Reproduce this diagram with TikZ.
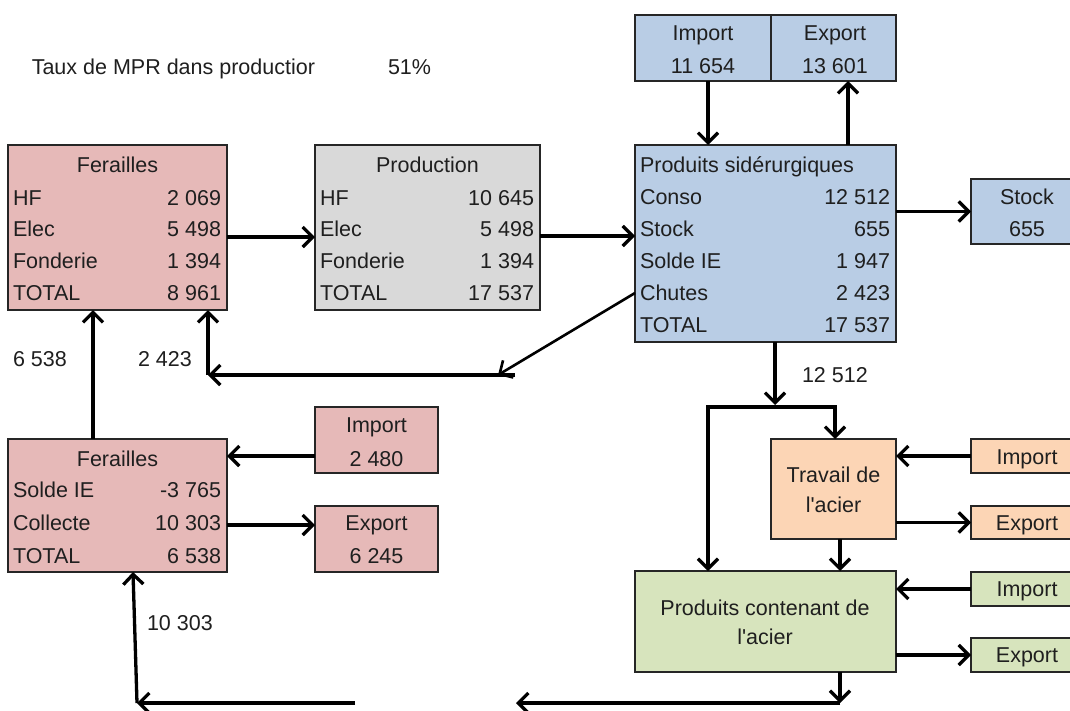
\documentclass[tikz,border=0pt]{standalone}
\usepackage{fontspec}
\setmainfont{Liberation Sans}
\usetikzlibrary{arrows.meta}
\definecolor{cpink}{HTML}{E6B9B8}
\definecolor{cgray}{HTML}{D9D9D9}
\definecolor{cblue}{HTML}{B9CDE5}
\definecolor{corange}{HTML}{FCD5B5}
\definecolor{cgreen}{HTML}{D7E4BD}
\definecolor{cline}{HTML}{262626}
\definecolor{ctext}{HTML}{1F1F1F}
\tikzset{
  box/.style={draw=cline, line width=1.6pt, inner sep=0pt, outer sep=0pt},
  pinkbox/.style={box, fill=cpink},
  graybox/.style={box, fill=cgray},
  bluebox/.style={box, fill=cblue},
  orangebox/.style={box, fill=corange},
  greenbox/.style={box, fill=cgreen},
  txt/.style={inner sep=0pt, outer sep=0pt, text=ctext, font=\fontsize{21.5}{26}\selectfont, text height=15.5pt, text depth=0pt},
  lab/.style={txt, anchor=west},
  num/.style={txt, anchor=east},
  arr/.style={draw=black, line width=3.3pt, line join=miter, -{Straight Barb[length=10pt,width=20pt]}},
}
\begin{document}
\begin{tikzpicture}[x=1pt,y=-1pt]
\useasboundingbox (0,0) rectangle (1070,710);
\clip (0,0) rectangle (1070,710);
\fill[white] (0,0) rectangle (1070,710);

% title
\node[txt, anchor=east] (title) at (315,67) {Taux de MPR dans productior};
\node[lab] (pct) at (388,67) {51\%};

% Ferailles (top)
\node[pinkbox, minimum width=219pt, minimum height=165pt] (fer1) at (117.5,227.5) {};
\node[txt] (fer1t) at (117.5,165) {Ferailles};
\node[lab] (f1a) at (13,198) {HF};
\node[lab] (f1b) at (13,229) {Elec};
\node[lab] (f1c) at (13,261) {Fonderie};
\node[lab] (f1d) at (13,293) {TOTAL};
\node[num] (f1an) at (221,198) {2 069};
\node[num] (f1bn) at (221,229) {5 498};
\node[num] (f1cn) at (221,261) {1 394};
\node[num] (f1dn) at (221,293) {8 961};

% Production
\node[graybox, minimum width=225pt, minimum height=165pt] (prod) at (427.5,227.5) {};
\node[txt] (prodt) at (427.5,165) {Production};
\node[lab] (pa) at (320,198) {HF};
\node[lab] (pb) at (320,229) {Elec};
\node[lab] (pc) at (320,261) {Fonderie};
\node[lab] (pd) at (320,293) {TOTAL};
\node[num] (pan) at (534,198) {10 645};
\node[num] (pbn) at (534,229) {5 498};
\node[num] (pcn) at (534,261) {1 394};
\node[num] (pdn) at (534,293) {17 537};

% Produits siderurgiques
\node[bluebox, minimum width=261pt, minimum height=197pt] (sid) at (765.5,243.5) {};
\node[lab] (sidt) at (640,165) {Produits sidérurgiques};
\node[lab] (sa) at (640,197) {Conso};
\node[lab] (sb) at (640,229) {Stock};
\node[lab] (sc) at (640,261) {Solde IE};
\node[lab] (chutes) at (640,293) {Chutes};
\node[lab] (se) at (640,325) {TOTAL};
\node[num] (san) at (890,197) {12 512};
\node[num] (sbn) at (890,229) {655};
\node[num] (scn) at (890,261) {1 947};
\node[num] (sdn) at (890,293) {2 423};
\node[num] (sen) at (890,325) {17 537};

% Import / Export top
\node[bluebox, minimum width=136pt, minimum height=66pt] (imp1) at (703,48) {};
\node[bluebox, minimum width=125pt, minimum height=66pt] (exp1) at (833.5,48) {};
\node[txt] (imp1a) at (703,33) {Import};
\node[txt] (imp1b) at (703,66) {11 654};
\node[txt] (exp1a) at (835,33) {Export};
\node[txt] (exp1b) at (835,66) {13 601};

% Stock
\node[bluebox, minimum width=112pt, minimum height=65pt] (stock) at (1027,211.5) {};
\node[txt] (stocka) at (1027,197) {Stock};
\node[txt] (stockb) at (1027,229) {655};

% Ferailles (bottom)
\node[pinkbox, minimum width=219pt, minimum height=133pt] (fer2) at (117.5,505.5) {};
\node[txt] (fer2t) at (117.5,459) {Ferailles};
\node[lab] (f2a) at (13,490) {Solde IE};
\node[lab] (f2b) at (13,523) {Collecte};
\node[lab] (f2c) at (13,556) {TOTAL};
\node[num] (f2an) at (221,490) {-3 765};
\node[num] (f2bn) at (221,523) {10 303};
\node[num] (f2cn) at (221,556) {6 538};

% Import / Export scrap
\node[pinkbox, minimum width=123pt, minimum height=66pt] (imp2) at (376.5,440) {};
\node[txt] (imp2a) at (376.5,425) {Import};
\node[txt] (imp2b) at (376.5,459) {2 480};
\node[pinkbox, minimum width=123pt, minimum height=66pt] (exp2) at (376.5,539) {};
\node[txt] (exp2a) at (376.5,523) {Export};
\node[txt] (exp2b) at (376.5,556) {6 245};

% Travail de l'acier
\node[orangebox, minimum width=125pt, minimum height=100pt] (trav) at (833.5,489) {};
\node[txt] (trava) at (833.5,475) {Travail de};
\node[txt] (travb) at (833.5,505) {l\textquotesingle acier};

% Produits contenant de l'acier
\node[greenbox, minimum width=261pt, minimum height=101pt] (pca) at (765.5,621.5) {};
\node[txt] (pcaa) at (765,608) {Produits contenant de};
\node[txt] (pcab) at (765,637) {l\textquotesingle acier};

% right small boxes
\node[orangebox, minimum width=112pt, minimum height=34pt] (impO) at (1027,456) {};
\node[txt] (impOt) at (1027,457) {Import};
\node[orangebox, minimum width=112pt, minimum height=33pt] (expO) at (1027,522.5) {};
\node[txt] (expOt) at (1027,523) {Export};
\node[greenbox, minimum width=112pt, minimum height=34pt] (impG) at (1027,589) {};
\node[txt] (impGt) at (1027,589) {Import};
\node[greenbox, minimum width=112pt, minimum height=34pt] (expG) at (1027,655) {};
\node[txt] (expGt) at (1027,655) {Export};

% flow labels
\node[lab] (l6538) at (13,359) {6 538};
\node[lab] (l2423) at (138,359) {2 423};
\node[lab] (l10303) at (147,623) {10 303};
\node[lab] (l12512) at (802,375) {12 512};

% coordinates
\coordinate (c1) at ([yshift=-9.5pt]fer1.east);
\coordinate (c2) at ([yshift=-8.5pt]prod.east);
\coordinate (c3) at ([xshift=5pt]imp1.south);
\coordinate (c4) at ([xshift=14.5pt]exp1.south);
\coordinate (chE) at (498,375);
\coordinate (h1) at (515,375);
\coordinate (h2) at (208,375);
\coordinate (v1) at ([xshift=-24.5pt]fer2.north);
\coordinate (c9) at ([yshift=-16pt]imp2.west);
\coordinate (c10) at ([yshift=14pt]exp2.west);
\coordinate (b1) at (137,703);
\coordinate (b2) at (355,703);
\coordinate (p1) at ([xshift=74.5pt]pca.south);
\coordinate (b3) at (p1 |- b1);
\coordinate (b4) at (516,703);
\coordinate (s1) at ([xshift=9.5pt]sid.south);
\coordinate (s2) at (775,405);
\coordinate (j1) at (708,407);
\coordinate (j2) at (835,407);
\coordinate (t1) at ([xshift=6.5pt]trav.south);

% connectors
\draw[arr] (c1) -- (c1 -| prod.west);
\draw[arr] (c2) -- (c2 -| sid.west);
\draw[arr] (stock.west -| sid.east) -- (stock.west);
\draw[arr] (c3) -- (c3 |- sid.north);
\draw[arr] (c4 |- sid.north) -- (c4);
\draw[arr, line width=2.6pt] (sid.west |- chutes) -- (chE);
\draw[arr] (h1) -- (h2);
\draw[arr] (h2) -- (h2 |- fer1.south);
\draw[arr] (v1) -- (v1 |- fer1.south);
\draw[arr] (c9) -- (c9 -| fer2.east);
\draw[arr] (c10 -| fer2.east) -- (c10);
\draw[arr] (b1) -- ([xshift=15.5pt]fer2.south);
\draw[arr] (b2) -- (b1);
\draw[arr] (p1) -- (b3);
\draw[arr] (b3) -- (b4);
\draw[arr] (s1) -- (s2);
\draw[arr] (j2) -- (j1) -- (j1 |- pca.north);
\draw[arr] (j1) -- (j2) -- (j2 |- trav.north);
\draw[arr] (t1) -- (t1 |- pca.north);
\draw[arr] (impO.west) -- (impO.west -| trav.east);
\draw[arr] (expO.west -| trav.east) -- (expO.west);
\draw[arr] (impG.west) -- (impG.west -| pca.east);
\draw[arr] (expG.west -| pca.east) -- (expG.west);
\end{tikzpicture}
\end{document}
